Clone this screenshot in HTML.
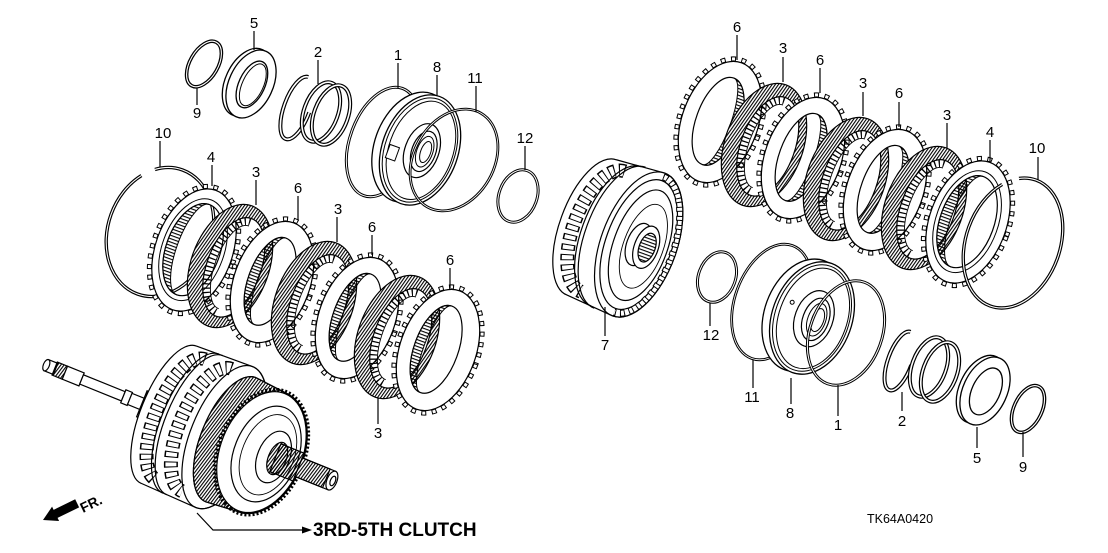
<!DOCTYPE html>
<html><head><meta charset="utf-8"><style>
html,body{margin:0;padding:0;background:#fff;}
svg{display:block;}
text{font-family:"Liberation Sans",Arial,sans-serif;fill:#000;}
</style></head><body>
<svg width="1108" height="553" viewBox="0 0 1108 553" xmlns="http://www.w3.org/2000/svg">
<defs>
<pattern id="h" width="2.6" height="10" patternUnits="userSpaceOnUse" patternTransform="rotate(15)"><rect width="1.1" height="10" fill="#000"/></pattern>
<pattern id="hb" width="10" height="3.2" patternUnits="userSpaceOnUse"><rect width="10" height="1.1" fill="#000"/></pattern>
<g id="fr">
 <path d="M-39,0a39,64 0 1,0 78,0a39,64 0 1,0 -78,0Z M-23,0a27,52 0 1,0 54,0a27,52 0 1,0 -54,0Z" fill="#fff" fill-rule="evenodd"/>
 <path d="M-39,0a39,64 0 1,0 78,0a39,64 0 1,0 -78,0Z M-23,0a27,52 0 1,0 54,0a27,52 0 1,0 -54,0Z" fill="url(#h)" fill-rule="evenodd" stroke="#000" stroke-width="1.2"/>
 <path d="M4,-48A23,48 0 0,0 4,48" fill="none" stroke="#000" stroke-width="7" stroke-dasharray="1.3 3"/>
 <path d="M4,-44A19,44 0 0,0 4,44" fill="none" stroke="#000" stroke-width="0.9"/>
</g>
<g id="stR">
 <ellipse rx="40.5" ry="65.5" fill="none" stroke="#000" stroke-width="5" stroke-dasharray="5 5.5"/>
 <ellipse rx="40.5" ry="65.5" fill="none" stroke="#fff" stroke-width="3" stroke-dasharray="3 7.5" stroke-dashoffset="-1"/>
 <path d="M-38,0a38,63 0 1,0 76,0a38,63 0 1,0 -76,0Z M-24,0a22,46 0 1,0 44,0a22,46 0 1,0 -44,0Z" fill="#fff" fill-rule="evenodd" stroke="#000" stroke-width="1.2"/>
 <path d="M-2,-46A22,46 0 0,1 -2,46A12,44 0 0,0 -2,-46Z" fill="url(#hb)" stroke="#000" stroke-width="1"/>
</g>
<g id="stL">
 <ellipse rx="40.5" ry="65.5" fill="none" stroke="#000" stroke-width="5" stroke-dasharray="5 5.5"/>
 <ellipse rx="40.5" ry="65.5" fill="none" stroke="#fff" stroke-width="3" stroke-dasharray="3 7.5" stroke-dashoffset="-1"/>
 <path d="M-38,0a38,63 0 1,0 76,0a38,63 0 1,0 -76,0Z M-24,0a22,46 0 1,0 44,0a22,46 0 1,0 -44,0Z" fill="#fff" fill-rule="evenodd" stroke="#000" stroke-width="1.2"/>
 <path d="M-2,-46A22,46 0 0,0 -2,46A12,44 0 0,1 -2,-46Z" fill="url(#hb)" stroke="#000" stroke-width="1"/>
</g>
<g id="p4">
 <ellipse rx="41" ry="66" fill="none" stroke="#000" stroke-width="5" stroke-dasharray="5 5.5"/>
 <ellipse rx="41" ry="66" fill="none" stroke="#fff" stroke-width="3" stroke-dasharray="3 7.5" stroke-dashoffset="-1"/>
 <path d="M-38.5,0a38.5,63.5 0 1,0 77,0a38.5,63.5 0 1,0 -77,0Z M-28,0a27,48 0 1,0 54,0a27,48 0 1,0 -54,0Z" fill="#fff" fill-rule="evenodd" stroke="#000" stroke-width="1.2"/>
 <ellipse cx="-1" rx="31" ry="53" fill="none" stroke="#000" stroke-width="1"/>
 <path d="M-1,-48A27,48 0 0,0 -1,48A15,44 0 0,1 -1,-48Z" fill="url(#hb)" stroke="#000" stroke-width="1"/>
</g>
</defs>

<!-- ===== TOP-LEFT GROUP ===== -->
<g transform="translate(204,64) rotate(30)"><ellipse rx="14" ry="25" fill="none" stroke="#000" stroke-width="3.6"/><ellipse rx="14" ry="25" fill="none" stroke="#fff" stroke-width="1.1"/></g>
<g transform="translate(251,84) rotate(25)">
 <ellipse cx="-4" rx="22" ry="36" fill="#fff" stroke="#000" stroke-width="1.3"/>
 <path d="M-22,0a22,36 0 1,0 44,0a22,36 0 1,0 -44,0Z M-12,0a13,25 0 1,0 26,0a13,25 0 1,0 -26,0Z" fill="#fff" fill-rule="evenodd" stroke="#000" stroke-width="1.3"/>
 <ellipse cx="2" rx="10.5" ry="22.5" fill="none" stroke="#000" stroke-width="1"/>
</g>
<g transform="translate(297,108) rotate(20)"><ellipse rx="13" ry="33" fill="none" stroke="#000" stroke-width="4" pathLength="100" stroke-dasharray="75 25"/><ellipse rx="13" ry="33" fill="none" stroke="#fff" stroke-width="1.6" pathLength="100" stroke-dasharray="75 25"/></g>
<g transform="translate(321,112) rotate(20)"><ellipse rx="17" ry="31" fill="none" stroke="#000" stroke-width="4"/><ellipse rx="17" ry="31" fill="none" stroke="#fff" stroke-width="1.6"/></g>
<g transform="translate(331,115) rotate(20)"><ellipse rx="17" ry="31" fill="none" stroke="#000" stroke-width="4"/><ellipse rx="17" ry="31" fill="none" stroke="#fff" stroke-width="1.6"/></g>
<g transform="translate(383,142) rotate(20)"><ellipse rx="33" ry="57" fill="none" stroke="#000" stroke-width="3"/><ellipse rx="33" ry="57" fill="none" stroke="#fff" stroke-width="1"/></g>
<g transform="translate(420,150) rotate(20)">
 <ellipse cx="-8" rx="38" ry="57" fill="#fff" stroke="#000" stroke-width="1.3"/>
 <ellipse cx="0" rx="38" ry="57" fill="#fff" stroke="#000" stroke-width="1.3"/>
 <ellipse cx="0" rx="35" ry="54" fill="none" stroke="#000" stroke-width="1"/>
 <ellipse cx="1" rx="32" ry="51" fill="none" stroke="#000" stroke-width="1"/>
 <ellipse cx="2" rx="17" ry="28" fill="#fff" stroke="#000" stroke-width="1.2"/>
 <ellipse cx="4" rx="12" ry="21" fill="#fff" stroke="#000" stroke-width="1.2"/>
 <ellipse cx="5" rx="8" ry="16" fill="none" stroke="#000" stroke-width="1"/>
 <ellipse cx="6" rx="5" ry="11" fill="none" stroke="#000" stroke-width="1"/>
 <rect x="-30" y="5" width="10" height="14" fill="#fff" stroke="#000" stroke-width="1"/>
</g>
<g transform="translate(454,160) rotate(30)"><ellipse rx="40" ry="54" fill="none" stroke="#000" stroke-width="2.8"/><ellipse rx="40" ry="54" fill="none" stroke="#fff" stroke-width="0.8"/></g>
<g transform="translate(518,196) rotate(20)"><ellipse rx="19" ry="27" fill="none" stroke="#000" stroke-width="3"/><ellipse rx="19" ry="27" fill="none" stroke="#fff" stroke-width="1"/></g>

<!-- ===== LEFT STACK ===== -->
<g transform="translate(160,232) rotate(20)"><ellipse rx="52" ry="66" fill="none" stroke="#000" stroke-width="3.4" pathLength="100" stroke-dasharray="96 4" stroke-dashoffset="32.5"/><ellipse rx="52" ry="66" fill="none" stroke="#fff" stroke-width="1.1" pathLength="100" stroke-dasharray="96 4" stroke-dashoffset="32.5"/></g>
<use href="#p4" transform="translate(194,250) rotate(20)"/>
<use href="#fr" transform="translate(230,266) rotate(20)"/>
<use href="#stL" transform="translate(272,282) rotate(20)"/>
<use href="#fr" transform="translate(314,303) rotate(20)"/>
<use href="#stL" transform="translate(357,318) rotate(20)"/>
<use href="#fr" transform="translate(397,337) rotate(20)"/>
<use href="#stL" transform="translate(438,350) rotate(20)"/>

<!-- ===== SHAFT ASSEMBLY ===== -->
<g transform="translate(229,439) rotate(22)" stroke="#000" stroke-width="1.2">
 <rect x="-197" y="-6" width="10" height="12" fill="#fff"/>
 <ellipse cx="-197" rx="3" ry="6" fill="#fff"/>
 <rect x="-188" y="-7" width="11" height="14" fill="url(#h)"/>
 <rect x="-177" y="-7" width="18" height="14" fill="#fff"/>
 <rect x="-159" y="-5" width="45" height="10" fill="#fff"/>
 <rect x="-114" y="-7" width="7" height="14" fill="#fff"/>
 <rect x="-107" y="-6" width="14" height="12" fill="#fff"/>
 <rect x="-94" y="-14" width="16" height="28" fill="url(#h)"/>
 <path d="M-65,-74 L-5,-76 A34,76 0 0,1 -5,76 L-65,74 A28,74 0 0,1 -65,-74Z" fill="#fff"/>
 <path d="M-52,-65A26,65 0 0,0 -52,65" fill="none" stroke-width="14" stroke-dasharray="6 4"/>
 <path d="M-52,-65A26,65 0 0,0 -52,65" fill="none" stroke="#fff" stroke-width="11" stroke-dasharray="4 6" stroke-dashoffset="-1"/>
 <path d="M-41,-75A30,75 0 0,0 -41,75" fill="none"/>
 <path d="M-37,-75A30,75 0 0,0 -37,75" fill="none"/>
 <path d="M-24,-66A28,66 0 0,0 -24,66" fill="none" stroke-width="14" stroke-dasharray="6 4"/>
 <path d="M-24,-66A28,66 0 0,0 -24,66" fill="none" stroke="#fff" stroke-width="11" stroke-dasharray="4 6" stroke-dashoffset="-1"/>
 <ellipse cx="-5" rx="34" ry="76" fill="none"/>
 <path d="M2,-67 L35,-64 A42,64 0 0,1 35,64 L2,67 A30,67 0 0,1 2,-67Z" fill="#fff"/>
 <path d="M2,-67 L35,-64 A42,64 0 0,1 35,64 L2,67 A30,67 0 0,1 2,-67Z" fill="url(#h)"/>
 <ellipse cx="35" rx="43" ry="65" fill="none" stroke-width="4" stroke-dasharray="2 2"/>
 <ellipse cx="35" rx="41" ry="63" fill="#fff"/>
 <ellipse cx="40" rx="32" ry="50" fill="#fff"/>
 <ellipse cx="42" rx="26" ry="42" fill="none" stroke-width="0.9"/>
 <ellipse cx="48" rx="16" ry="27" fill="#fff"/>
 <rect x="50" y="-15" width="25" height="30" fill="url(#h)"/>
 <ellipse cx="52" rx="9" ry="17" fill="url(#h)"/>
 <rect x="75" y="-10" width="36" height="20" fill="#fff"/>
 <rect x="75" y="-10" width="30" height="20" fill="url(#h)"/>
 <ellipse cx="111" rx="5" ry="10" fill="#fff"/>
 <ellipse cx="112" rx="2.5" ry="5" fill="#fff"/>
</g>

<!-- ===== DRUM 7 ===== -->
<g transform="translate(618,237) rotate(20)" stroke="#000" stroke-width="1.2">
 <path d="M-28,-72 L22,-76 A38,76 0 0,1 22,76 L-28,72 A32,72 0 0,1 -28,-72Z" fill="#fff"/>
 <path d="M-16,-64A30,64 0 0,0 -16,64" fill="none" stroke-width="14" stroke-dasharray="6 4"/>
 <path d="M-16,-64A30,64 0 0,0 -16,64" fill="none" stroke="#fff" stroke-width="11" stroke-dasharray="4 6" stroke-dashoffset="-1"/>
 <path d="M-2,-74A35,74 0 0,0 -2,74" fill="none"/>
 <path d="M2,-75A35,75 0 0,0 2,75" fill="none"/>
 <ellipse cx="22" rx="38" ry="76" fill="none"/>
 <ellipse cx="22" rx="33" ry="68" fill="none"/>
 <path d="M22,-72A35,72 0 0,1 22,72" fill="none" stroke-width="7" stroke-dasharray="5 4"/>
 <path d="M22,-72A35,72 0 0,1 22,72" fill="none" stroke="#fff" stroke-width="5" stroke-dasharray="3 6" stroke-dashoffset="-1"/>
 <ellipse cx="24" rx="27" ry="58" fill="#fff"/>
 <ellipse cx="27" rx="20" ry="44" fill="none" stroke-width="0.9"/>
 <ellipse cx="22" rx="12" ry="22" fill="#fff"/>
 <ellipse cx="30" rx="12" ry="22" fill="#fff"/>
 <ellipse cx="31" rx="8" ry="15" fill="url(#hb)"/>
</g>

<!-- ===== RIGHT STACK ===== -->
<use href="#stR" transform="translate(720,122) rotate(20)"/>
<use href="#fr" transform="translate(764,145) rotate(20)"/>
<use href="#stR" transform="translate(803,158) rotate(20)"/>
<use href="#fr" transform="translate(846,179) rotate(20)"/>
<use href="#stR" transform="translate(885,190) rotate(20)"/>
<use href="#fr" transform="translate(924,208) rotate(20)"/>
<use href="#p4" transform="translate(968,222) rotate(20)"/>
<g transform="translate(1013,243) rotate(20)"><ellipse rx="47" ry="67" fill="none" stroke="#000" stroke-width="3.4" pathLength="100" stroke-dasharray="95 5" stroke-dashoffset="29.7"/><ellipse rx="47" ry="67" fill="none" stroke="#fff" stroke-width="1.1" pathLength="100" stroke-dasharray="95 5" stroke-dashoffset="29.7"/></g>

<!-- ===== BOTTOM-RIGHT GROUP ===== -->
<g transform="translate(717,277) rotate(20)"><ellipse rx="18.5" ry="26" fill="none" stroke="#000" stroke-width="3"/><ellipse rx="18.5" ry="26" fill="none" stroke="#fff" stroke-width="1"/></g>
<g transform="translate(772,302) rotate(20)"><ellipse rx="37" ry="60" fill="none" stroke="#000" stroke-width="2.8"/><ellipse rx="37" ry="60" fill="none" stroke="#fff" stroke-width="0.8"/></g>
<g transform="translate(812,318) rotate(20)" stroke="#000">
 <ellipse cx="-8" rx="40" ry="58" fill="#fff" stroke-width="1.3"/>
 <ellipse cx="0" rx="40" ry="58" fill="#fff" stroke-width="1.3"/>
 <ellipse cx="0" rx="37" ry="55" fill="none" stroke-width="1"/>
 <ellipse cx="1" rx="34" ry="52" fill="none" stroke-width="1"/>
 <ellipse cx="2" rx="19" ry="29" fill="#fff" stroke-width="1.2"/>
 <ellipse cx="4" rx="13" ry="22" fill="#fff" stroke-width="1.2"/>
 <ellipse cx="5" rx="9" ry="17" fill="none" stroke-width="1"/>
 <ellipse cx="6" rx="6" ry="12" fill="none" stroke-width="1"/>
 <circle cx="-24" cy="-8" r="2" fill="none" stroke-width="1"/>
</g>
<g transform="translate(846,333) rotate(20)"><ellipse rx="36" ry="54" fill="none" stroke="#000" stroke-width="3"/><ellipse rx="36" ry="54" fill="none" stroke="#fff" stroke-width="1"/></g>
<g transform="translate(900,361) rotate(20)"><ellipse rx="12" ry="31" fill="none" stroke="#000" stroke-width="4" pathLength="100" stroke-dasharray="75 25"/><ellipse rx="12" ry="31" fill="none" stroke="#fff" stroke-width="1.6" pathLength="100" stroke-dasharray="75 25"/></g>
<g transform="translate(929,367) rotate(20)"><ellipse rx="17" ry="31" fill="none" stroke="#000" stroke-width="4"/><ellipse rx="17" ry="31" fill="none" stroke="#fff" stroke-width="1.6"/></g>
<g transform="translate(940,372) rotate(20)"><ellipse rx="17" ry="31" fill="none" stroke="#000" stroke-width="4"/><ellipse rx="17" ry="31" fill="none" stroke="#fff" stroke-width="1.6"/></g>
<g transform="translate(985,391) rotate(25)">
 <ellipse cx="-4" rx="22" ry="36" fill="#fff" stroke="#000" stroke-width="1.3"/>
 <path d="M-22,0a22,36 0 1,0 44,0a22,36 0 1,0 -44,0Z M-13,0a14,25 0 1,0 28,0a14,25 0 1,0 -28,0Z" fill="#fff" fill-rule="evenodd" stroke="#000" stroke-width="1.3"/>
</g>
<g transform="translate(1028,409) rotate(25)"><ellipse rx="14" ry="25" fill="none" stroke="#000" stroke-width="3.6"/><ellipse rx="14" ry="25" fill="none" stroke="#fff" stroke-width="1.1"/></g>

<!-- ===== LEADERS ===== -->
<g stroke="#000" stroke-width="1.2" fill="none">
 <path d="M254,31V50 M318,60V84 M398,63V88 M437,75V96 M476,86V112 M197,88V105 M160,141V167 M525,146V170"/>
 <path d="M212,165V186 M256,180V205 M298,196V220 M337,217V242 M372,235V255 M450,268V288 M378,398V424"/>
 <path d="M605,307V336"/>
 <path d="M737,35V60 M783,57V82 M820,68V93 M863,92V116 M899,102V127 M947,123V148 M990,140V162 M1038,157V180"/>
 <path d="M710,303V326 M753,360V388 M791,378V404 M838,385V416 M902,392V411 M977,427V448 M1023,432V457"/>
 <path d="M197,513 L213,530 L303,530"/>
</g>
<polygon points="312,530 302,526.5 302,533.5" fill="#000"/>

<!-- ===== LABELS ===== -->
<g font-size="15" text-anchor="middle">
 <text x="254" y="28">5</text><text x="318" y="57">2</text><text x="398" y="60">1</text><text x="437" y="72">8</text><text x="475" y="83">11</text><text x="197" y="118">9</text><text x="163" y="138">10</text><text x="525" y="143">12</text>
 <text x="211" y="162">4</text><text x="256" y="177">3</text><text x="298" y="193">6</text><text x="338" y="214">3</text><text x="372" y="232">6</text><text x="450" y="265">6</text><text x="378" y="438">3</text>
 <text x="605" y="350">7</text>
 <text x="737" y="32">6</text><text x="783" y="53">3</text><text x="820" y="65">6</text><text x="863" y="88">3</text><text x="899" y="98">6</text><text x="947" y="120">3</text><text x="990" y="137">4</text><text x="1037" y="153">10</text>
 <text x="711" y="340">12</text><text x="752" y="402">11</text><text x="790" y="418">8</text><text x="838" y="430">1</text><text x="902" y="426">2</text><text x="977" y="463">5</text><text x="1023" y="472">9</text>
</g>
<text x="313" y="536" font-size="19" font-weight="bold">3RD-5TH CLUTCH</text>
<text x="867" y="523" font-size="12.5">TK64A0420</text>

<g transform="translate(43,520) rotate(-26)"><polygon points="0,0 14,-8 14,-4.5 38,-4.5 38,4.5 14,4.5 14,8" fill="#000"/></g>
<text x="83" y="513" font-size="14" font-weight="bold" transform="rotate(-26 83 513)">FR.</text>
</svg>
</body></html>
